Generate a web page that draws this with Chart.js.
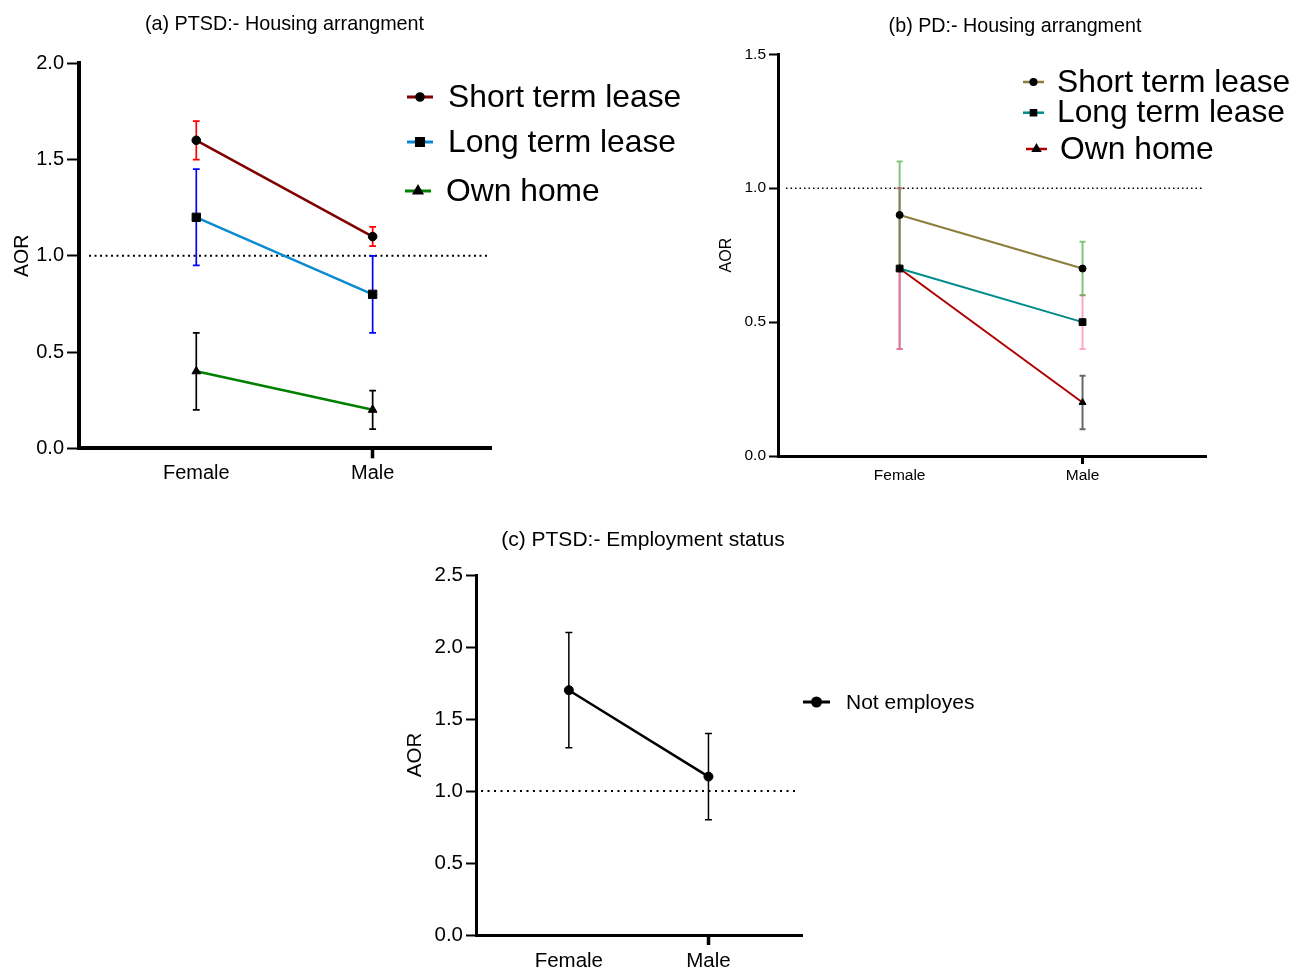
<!DOCTYPE html>
<html>
<head>
<meta charset="utf-8">
<title>AOR by sex</title>
<script src="https://cdn.jsdelivr.net/npm/chart.js@4.4.1/dist/chart.umd.min.js"></script>
<style>
  body { margin: 0; background: #fff; width: 1295px; height: 969px; position: relative; overflow: hidden; }
  .panel { position: absolute; }
</style>
</head>
<body>
<div class="panel" style="left:0;top:0;width:700px;height:500px"><canvas id="chartA"></canvas></div>
<div class="panel" style="left:700px;top:0;width:595px;height:500px"><canvas id="chartB"></canvas></div>
<div class="panel" style="left:400px;top:500px;width:600px;height:469px"><canvas id="chartC"></canvas></div>
<script>
// categories
const sexes = ['Female', 'Male'];

// (a) PTSD - housing arrangement
const ptsdShort = [1.6, 1.1];
const ptsdShortLow = [1.5, 1.05];
const ptsdShortHigh = [1.7, 1.15];
const ptsdLong = [1.2, 0.8];
const ptsdLongLow = [0.95, 0.6];
const ptsdLongHigh = [1.45, 1.0];
const ptsdOwn = [0.4, 0.2];
const ptsdOwnLow = [0.2, 0.1];
const ptsdOwnHigh = [0.6, 0.3];

// (b) PD - housing arrangement
const pdShort = [0.9, 0.7];
const pdShortLow = [0.7, 0.6];
const pdShortHigh = [1.1, 0.8];
const pdLong = [0.7, 0.5];
const pdLongLow = [0.4, 0.4];
const pdLongHigh = [1.0, 0.6];
const pdOwn = [0.7, 0.2];
const pdOwnLow = [0.4, 0.1];
const pdOwnHigh = [1.0, 0.3];

// (c) PTSD - employment status
const notEmployed = [1.7, 1.1];
const notEmployedLow = [1.3, 0.8];
const notEmployedHigh = [2.1, 1.4];

// axis ranges
const yMaxA = 2.0, yMaxB = 1.5, yMaxC = 2.5;
const yStep = 0.5;
const refValue = 1.0;

const FONT = '"Liberation Sans", Arial, Helvetica, sans-serif';
Chart.defaults.font.family = FONT;
Chart.defaults.color = '#000';

const toPoints = (vals) => vals.map((v, i) => ({ x: i, y: v }));

/**
 * dotted reference line at AOR = 1
 */
const refLine = {
    id: 'refLine',
    beforeDatasetsDraw(chart, args, opts) {
        const { ctx, chartArea } = chart;
        const py = chart.scales.y.getPixelForValue(opts.value);
        ctx.save();
        ctx.setLineDash(opts.dash);
        ctx.lineWidth = opts.width;
        ctx.strokeStyle = '#000';
        ctx.beginPath();
        ctx.moveTo(chartArea.left + opts.startInset, py);
        ctx.lineTo(chartArea.right - opts.endInset, py);
        ctx.stroke();
        ctx.restore();
    }
};

/**
 * vertical error bars with caps, drawn under the lines
 */
const errorBars = {
    id: 'errorBars',
    beforeDatasetsDraw(chart, args, opts) {
        const ctx = chart.ctx;
        const yScale = chart.scales.y;
        const order = chart.data.datasets.map((d, i) => i).reverse();
        order.forEach(i => {
            const ds = chart.data.datasets[i];
            if (!ds.errLow) return;
            chart.getDatasetMeta(i).data.forEach((pt, j) => {
                const top = yScale.getPixelForValue(ds.errHigh[j]);
                const bot = yScale.getPixelForValue(ds.errLow[j]);
                ctx.save();
                ctx.strokeStyle = Array.isArray(ds.errColor) ? ds.errColor[j] : ds.errColor;
                ctx.lineWidth = opts.width;
                ctx.beginPath();
                ctx.moveTo(pt.x, top);
                ctx.lineTo(pt.x, bot);
                ctx.moveTo(pt.x - opts.cap, top);
                ctx.lineTo(pt.x + opts.cap, top);
                ctx.moveTo(pt.x - opts.cap, bot);
                ctx.lineTo(pt.x + opts.cap, bot);
                ctx.stroke();
                ctx.restore();
            });
        });
    }
};

/**
 * panel title and legend
 */
const annotate = {
    id: 'annotate',
    afterDraw(chart, args, opts) {
        const ctx = chart.ctx;
        ctx.save();
        ctx.fillStyle = '#000';
        ctx.textAlign = 'center';
        ctx.textBaseline = 'middle';
        ctx.font = opts.titleSize + 'px ' + FONT;
        ctx.fillText(opts.title, opts.titleX, opts.titleY);

        const lg = opts.legend;
        ctx.textAlign = 'left';
        ctx.font = lg.size + 'px ' + FONT;
        chart.data.datasets.forEach((ds, i) => {
            const y = lg.rows[i];
            const x0 = lg.x[i];
            ctx.strokeStyle = ds.borderColor;
            ctx.lineWidth = lg.lineWidth;
            ctx.beginPath();
            ctx.moveTo(x0, y);
            ctx.lineTo(x0 + lg.lineLen, y);
            ctx.stroke();
            ctx.fillStyle = '#000';
            ctx.strokeStyle = '#000';
            Chart.helpers.drawPoint(ctx, {
                pointStyle: ds.pointStyle,
                radius: lg.markers[i],
                rotation: 0,
                borderWidth: 1
            }, x0 + lg.lineLen / 2, y);
            ctx.fillStyle = '#000';
            ctx.fillText(ds.label, x0 + lg.lineLen + lg.gap, y + 1);
        });
        ctx.restore();
    }
};

function makeChart(id, cfg) {
    const el = document.getElementById(id);
    return new Chart(el, {
        type: 'line',
        data: { datasets: cfg.datasets },
        plugins: [refLine, errorBars, annotate],
        options: {
            responsive: true,
            maintainAspectRatio: false,
            animation: false,
            events: [],
            layout: { padding: cfg.padding },
            elements: { line: { tension: 0 } },
            plugins: {
                legend: { display: false },
                tooltip: { enabled: false },
                refLine: { value: refValue, dash: cfg.dash, width: cfg.dashWidth, startInset: cfg.dashStart, endInset: cfg.dashEnd },
                errorBars: { width: cfg.errWidth, cap: cfg.cap },
                annotate: cfg.annotate
            },
            scales: {
                x: {
                    type: 'linear',
                    min: -0.665,
                    max: 1.675,
                    afterFit: (s) => { s.height = cfg.xHeight; },
                    afterBuildTicks: (s) => { s.ticks = sexes.map((c, i) => ({ value: i })); },
                    ticks: {
                        autoSkip: false,
                        maxRotation: 0,
                        padding: cfg.xPad,
                        font: { size: cfg.tickSize },
                        callback: (v) => sexes[v]
                    },
                    grid: {
                        drawOnChartArea: false,
                        tickLength: cfg.xTickLen,
                        tickWidth: cfg.xTickWidth,
                        tickColor: (c) => (c.tick && c.tick.value === 1) ? '#000' : 'rgba(0,0,0,0)'
                    },
                    border: { display: true, color: '#000', width: cfg.border }
                },
                y: {
                    min: 0,
                    max: cfg.yMax,
                    afterFit: (s) => { s.width = cfg.yWidth; },
                    ticks: {
                        stepSize: yStep,
                        padding: 3,
                        font: { size: cfg.yTickSize || cfg.tickSize },
                        callback: (v) => v.toFixed(1)
                    },
                    grid: {
                        drawOnChartArea: false,
                        tickLength: cfg.yTickLen,
                        tickWidth: 2,
                        tickColor: '#000'
                    },
                    border: { display: true, color: '#000', width: cfg.border },
                    title: {
                        display: true,
                        text: 'AOR',
                        font: { size: cfg.aorSize },
                        padding: { top: cfg.aorPad, bottom: 0 }
                    }
                }
            }
        }
    });
}

function series(label, vals, low, high, color, errColor, style, radius, width) {
    return {
        label: label,
        data: toPoints(vals),
        errLow: low,
        errHigh: high,
        errColor: errColor,
        borderColor: color,
        borderWidth: width,
        pointStyle: style,
        pointRadius: radius,
        pointBackgroundColor: '#000',
        pointBorderColor: '#000',
        pointBorderWidth: 1
    };
}

// (a)
makeChart('chartA', {
    datasets: [
        series('Short term lease', ptsdShort, ptsdShortLow, ptsdShortHigh, '#800000', '#ff0000', 'circle', 4.3, 2.5),
        series('Long term lease', ptsdLong, ptsdLongLow, ptsdLongHigh, '#0a8ad0', '#0000ff', 'rect', 5.9, 2.5),
        series('Own home', ptsdOwn, ptsdOwnLow, ptsdOwnHigh, '#008000', '#000000', 'triangle', 5, 2.5)
    ],
    padding: { left: 0, top: 63.3, right: 208.3, bottom: 0 },
    yMax: yMaxA, yWidth: 79, xHeight: 51.7,
    tickSize: 20, xPad: 3, xTickLen: 10, xTickWidth: 3.5, yTickLen: 12, border: 4,
    aorSize: 19.5, aorPad: 11,
    dash: [2, 3.5], dashWidth: 2, dashStart: 10, dashEnd: 2,
    errWidth: 1.7, cap: 3.4,
    annotate: {
        title: '(a) PTSD:- Housing arrangment', titleX: 284.5, titleY: 25, titleSize: 19.8,
        legend: { rows: [97, 142, 191], x: [407, 407, 405], lineLen: 26, gap: 15, size: 31.8, lineWidth: 3, markers: [3.3, 5, 4] }
    }
});

// (b)
makeChart('chartB', {
    datasets: [
        series('Short term lease', pdShort, pdShortLow, pdShortHigh, '#8c7d3c', 'rgba(40,160,40,0.6)', 'circle', 3.5, 2),
        series('Long term lease', pdLong, pdLongLow, pdLongHigh, '#008b8b', 'rgba(255,120,170,0.65)', 'rect', 4.8, 2),
        series('Own home', pdOwn, pdOwnLow, pdOwnHigh, '#b00000', ['rgba(110,0,40,0.55)', 'rgba(40,40,40,0.7)'], 'triangle', 4, 2)
    ],
    padding: { left: 0, top: 54.3, right: 89, bottom: 0 },
    yMax: yMaxB, yWidth: 78, xHeight: 44,
    tickSize: 15.5, xPad: 2, xTickLen: 8, xTickWidth: 3, yTickLen: 9, border: 3,
    aorSize: 16, aorPad: 17,
    dash: [1.5, 3], dashWidth: 1.5, dashStart: 8, dashEnd: 3,
    errWidth: 2, cap: 3,
    annotate: {
        title: '(b) PD:- Housing arrangment', titleX: 315, titleY: 27, titleSize: 19.7,
        legend: { rows: [82, 112.7, 149], x: [323, 323, 326], lineLen: 21, gap: 13, size: 31.8, lineWidth: 2.5, markers: [2.8, 3.6, 3.5] }
    }
});

// (c)
makeChart('chartC', {
    datasets: [
        series('Not employes', notEmployed, notEmployedLow, notEmployedHigh, '#000000', '#000000', 'circle', 4.5, 2.5)
    ],
    padding: { left: 0, top: 75, right: 197.3, bottom: 0 },
    yMax: yMaxC, yWidth: 76, xHeight: 34,
    tickSize: 20.5, xPad: 4, xTickLen: 10, xTickWidth: 3.5, yTickLen: 10, border: 3,
    aorSize: 20.5, aorPad: 3,
    dash: [2, 4.5], dashWidth: 2, dashStart: 5, dashEnd: 4,
    errWidth: 1.5, cap: 3.5,
    annotate: {
        title: '(c) PTSD:- Employment status', titleX: 243, titleY: 40, titleSize: 21,
        legend: { rows: [202], x: [403], lineLen: 27, gap: 16, size: 21, lineWidth: 3, markers: [4] }
    }
});
</script>
</body>
</html>
